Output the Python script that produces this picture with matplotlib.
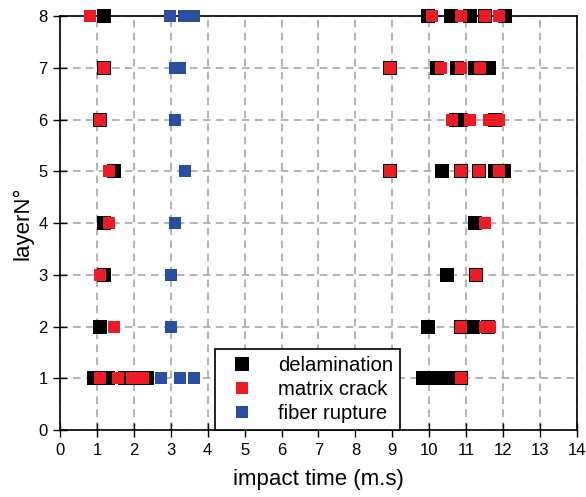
import numpy as np
import matplotlib.pyplot as plt

plt.rcParams['font.family'] = ['Liberation Sans', 'DejaVu Sans']

# damage events: impact time (m.s) and layer number
delam_t = [1.18, 9.96, 10.59, 11.1, 11.51, 12.04,
           1.19, 8.93, 10.22, 10.74, 11.25, 11.63,
           1.07, 10.72, 10.85, 11.77,
           1.45, 8.93, 10.34, 10.87, 11.36, 11.77, 12.02,
           1.19, 11.25,
           1.19, 10.48, 11.26,
           1.07, 9.96, 10.85, 11.18, 11.6,
           0.92, 1.3, 1.75, 2.1, 2.36, 9.83, 10.1, 10.35, 10.6, 10.86]
delam_layer = [8]*6 + [7]*6 + [6]*4 + [5]*7 + [4]*2 + [3]*3 + [2]*5 + [1]*10

crack_t = [0.81, 10.08, 10.86, 11.51, 11.89,
           1.19, 8.93, 10.33, 10.86, 11.38,
           1.07, 10.61, 11.1, 11.63, 11.9,
           1.33, 8.93, 10.87, 11.36, 11.9,
           1.33, 11.51,
           1.07, 11.26,
           1.45, 10.85, 11.51, 11.64,
           1.07, 1.58, 1.94, 2.24, 10.87]
crack_layer = [8]*5 + [7]*5 + [6]*5 + [5]*5 + [4]*2 + [3]*2 + [2]*4 + [1]*5

fiber_t = [2.99, 3.37, 3.64,
           3.11, 3.26,
           3.12,
           3.38,
           3.12,
           3.0,
           3.0,
           2.74, 3.26, 3.64]
fiber_layer = [8]*3 + [7]*2 + [6] + [5] + [4] + [3] + [2] + [1]*3

fig = plt.figure(figsize=(5.86, 4.97), dpi=100)
ax = fig.add_axes([0.1024, 0.1348, 0.8822, 0.833])

ax.plot(delam_t, delam_layer, 's', color='black', ms=10.4, mew=0,
        label='delamination', clip_on=False, zorder=3)
ax.plot(crack_t, crack_layer, 's', color='#ED1C24', ms=8.6, mew=0,
        label='matrix crack', clip_on=False, zorder=4)
ax.plot(fiber_t, fiber_layer, 's', color='#2A4FA0', ms=8.3, mew=0,
        label='fiber rupture', clip_on=False, zorder=5)

ax.set_xlim(0, 14)
ax.set_ylim(0, 8)
ax.set_xticks(np.arange(0, 15, 1))
ax.set_yticks(np.arange(0, 9, 1))
ax.grid(True, color='#A0A0A0', linestyle=(0, (5, 3.5)), linewidth=1.1)
ax.set_axisbelow(True)
ax.tick_params(direction='inout', length=10, width=1, labelsize=12,
               colors='black', pad=4)
for s in ax.spines.values():
    s.set_color('black')
    s.set_linewidth(1.2)

ax.set_xlabel('impact time (m.s)', fontsize=16, labelpad=8)
ax.set_ylabel('layerN°', fontsize=16, labelpad=3)

leg = ax.legend(loc='lower left', bbox_to_anchor=(0.30, 0.0),
                borderaxespad=0, fontsize=14.6, frameon=True, fancybox=False,
                edgecolor='black', framealpha=1, handletextpad=0.75,
                handlelength=2.0, labelspacing=0.25, borderpad=0.35)
leg.get_frame().set_linewidth(1.2)

fig.savefig('out.png', dpi=100)
